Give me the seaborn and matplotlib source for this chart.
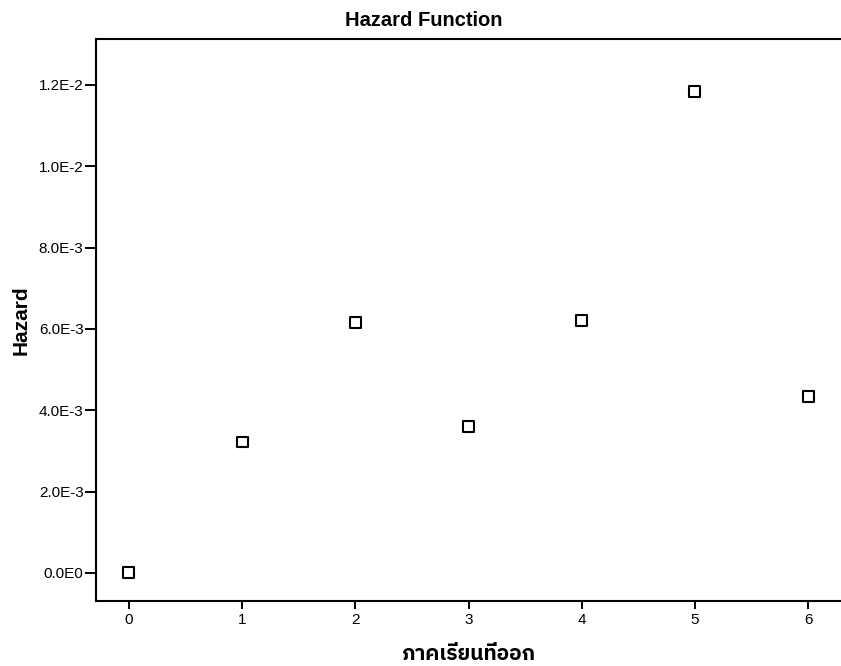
import matplotlib
matplotlib.use("Agg")
import matplotlib.pyplot as plt
import seaborn as sns
import pandas as pd
from matplotlib import font_manager
from matplotlib.ft2font import FT2Font

# ---- data ----
semesters = [0, 1, 2, 3, 4, 5, 6]
hazard = [0.0, 3.22e-3, 6.17e-3, 3.59e-3, 6.20e-3, 11.83e-3, 4.35e-3]
ytick_values = [0.0, 0.002, 0.004, 0.006, 0.008, 0.010, 0.012]
ytick_labels = ["0.0E0", "2.0E-3", "4.0E-3", "6.0E-3", "8.0E-3", "1.0E-2", "1.2E-2"]
xtick_labels = ["0", "1", "2", "3", "4", "5", "6"]
title_text = "Hazard Function"
x_label = "ภาคเรียนที่ออก"
y_label = "Hazard"


def find_thai_font():
    found = []
    for f in font_manager.fontManager.ttflist:
        try:
            cmap = FT2Font(f.fname).get_charmap()
        except Exception:
            continue
        if 0x0E20 in cmap and 0x0E35 in cmap and 0x0E01 in cmap:
            found.append(f)
    if not found:
        return None
    found.sort(key=lambda f: (0 if "sans" in f.name.lower() else 1, f.name))
    return found[0].name


thai_family = find_thai_font()

sns.set_theme(style="ticks")
families = ["Liberation Sans"]
if thai_family:
    families.append(thai_family)
families.append("DejaVu Sans")
plt.rcParams["font.family"] = families

df = pd.DataFrame({"semester": semesters, "hazard": hazard})

W, H = 841, 666
fig = plt.figure(figsize=(W / 100, H / 100), dpi=100)
fig.patch.set_facecolor("white")
ax = fig.add_axes([96 / W, 1 - 601 / H, 1 - 96 / W, (601 - 39) / H])
ax.set_facecolor("white")

sns.scatterplot(data=df, x="semester", y="hazard", marker="s", s=62,
                color="black", linewidth=1.5, ax=ax, legend=False)
for coll in ax.collections:
    coll.set_facecolor("none")
    coll.set_edgecolor("black")
    coll.set_linewidth(1.5)

ax.set_xlim(-0.29, 6.29)
ax.set_ylim(-0.00069, 0.01313)
ax.set_xticks(semesters)
ax.set_xticklabels(xtick_labels)
ax.set_yticks(ytick_values)
ax.set_yticklabels(ytick_labels)

for side in ["left", "bottom", "top"]:
    ax.spines[side].set_visible(True)
    ax.spines[side].set_color("black")
    ax.spines[side].set_linewidth(1.5)
ax.spines["right"].set_visible(False)

ax.tick_params(axis="y", direction="out", length=8, width=1.4, color="black",
               labelsize=11, pad=1, labelcolor="black")
ax.tick_params(axis="x", direction="out", length=6, width=1.4, color="black",
               labelsize=11, pad=3, labelcolor="black")

ax.set_ylabel(y_label, fontsize=15, fontweight="bold", color="black")
ax.yaxis.set_label_coords(-0.088, 0.5)
ax.set_xlabel(x_label, fontsize=15, fontweight="bold", color="black")
ax.xaxis.set_label_coords(0.5, -0.078)

fig.text(424 / W, 1 - 21 / H, title_text, ha="center", va="center",
         fontsize=14.5, fontweight="bold", color="black")

fig.savefig("out.png", dpi=100, facecolor="white")
